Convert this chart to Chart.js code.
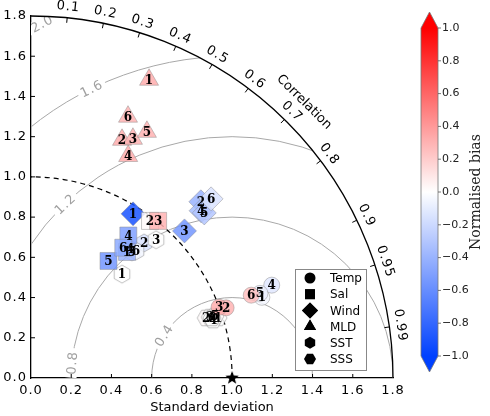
<!DOCTYPE html>
<html>
<head>
<meta charset="utf-8">
<script src="https://cdn.jsdelivr.net/npm/chart.js@4.4.0/dist/chart.umd.min.js"></script>
<style>
  html, body { margin: 0; padding: 0; background: #fff; }
  #wrap { width: 490px; height: 416px; position: relative; }
</style>
</head>
<body>
<div id="wrap"><canvas id="taylor"></canvas></div>
<script>
// experiment runs 1..6 for every variable
const runLabels = ['1', '2', '3', '4', '5', '6'];
const variables = ['Temp', 'Sal', 'Wind', 'MLD', 'SST', 'SSS'];

const stdTemp = [1.216, 1.031, 0.999, 1.283, 1.214, 1.170];
const corrTemp = [0.944, 0.941, 0.936, 0.933, 0.938, 0.936];
const biasTemp = [-0.04, 0.30, 0.32, -0.12, -0.08, 0.25];

const stdSal = [0.788, 0.980, 1.005, 0.858, 0.698, 0.794];
const corrSal = [0.606, 0.604, 0.629, 0.564, 0.552, 0.578];
const biasSal = [-0.40, 0.02, 0.30, -0.50, -0.55, -0.45];

const stdWind = [0.961, 1.217, 1.057, 1.186, 1.190, 1.263];
const corrWind = [0.528, 0.694, 0.722, 0.713, 0.724, 0.709];
const biasWind = [-0.90, -0.40, -0.55, -0.35, -0.30, -0.15];

const stdMLD = [1.595, 1.268, 1.293, 1.205, 1.353, 1.386];
const corrMLD = [0.368, 0.357, 0.392, 0.401, 0.426, 0.348];
const biasMLD = [0.32, 0.32, 0.30, 0.32, 0.30, 0.30];

const stdSST = [0.687, 0.876, 0.927, 0.809, 0.803, 0.820];
const corrSST = [0.659, 0.642, 0.671, 0.609, 0.625, 0.637];
const biasSST = [0.00, -0.15, 0.00, -0.05, 0.00, -0.05];

const stdSSS = [0.977, 0.921, 0.941, 0.950, 0.965, 0.948];
const corrSSS = [0.952, 0.946, 0.947, 0.953, 0.948, 0.949];
const biasSSS = [0.00, 0.02, 0.00, 0.00, 0.02, 0.00];

const refStd = 1.0;
const maxStd = 1.8;
const corrTicks = [0.1, 0.2, 0.3, 0.4, 0.5, 0.6, 0.7, 0.8, 0.9, 0.95, 0.99];
const rmsLevels = [0.4, 0.8, 1.2, 1.6, 2.0];
const rmsLabelAngles = [148, 174.6, 133.8, 115.9, 118.2]; // degrees around the reference point
const biasTicks = [1.0, 0.8, 0.6, 0.4, 0.2, 0.0, -0.2, -0.4, -0.6, -0.8, -1.0];

Chart.defaults.font.family = 'DejaVu Sans';
Chart.defaults.color = '#000';

function biasColor(b, a) {
  b = Math.max(-1, Math.min(1, b));
  let r, g, bl;
  if (b >= 0) {
    r = 255; g = bl = Math.round(255 * (1 - b));
  } else {
    const t = -b;
    r = Math.round(255 * (1 - t)); g = Math.round(255 - 190 * t); bl = 255;
  }
  return `rgba(${r},${g},${bl},${a})`;
}

function hexPath(ctx, x, y, r, flatTop) {
  ctx.beginPath();
  for (let i = 0; i < 6; i++) {
    const a = (flatTop ? 0 : Math.PI / 6) + i * Math.PI / 3;
    const px = x + r * Math.cos(a), py = y + r * Math.sin(a);
    if (i === 0) ctx.moveTo(px, py); else ctx.lineTo(px, py);
  }
  ctx.closePath();
}

const hexCache = {};
function hexImage(color, r, flatTop) {
  const key = color + r + flatTop;
  if (hexCache[key]) return hexCache[key];
  const cv = document.createElement('canvas');
  cv.width = cv.height = 2 * r + 4;
  const c = cv.getContext('2d');
  hexPath(c, r + 2, r + 2, r, flatTop);
  c.fillStyle = color; c.fill();
  c.strokeStyle = 'rgba(140,140,140,0.7)'; c.lineWidth = 0.8; c.stroke();
  hexCache[key] = cv;
  return cv;
}

function starImage(r) {
  const cv = document.createElement('canvas');
  cv.width = cv.height = 2 * r + 2;
  const c = cv.getContext('2d');
  c.beginPath();
  for (let i = 0; i < 10; i++) {
    const rad = i % 2 === 0 ? r : r * 0.42;
    const a = -Math.PI / 2 + i * Math.PI / 5;
    const px = r + 1 + rad * Math.cos(a), py = r + 1 + rad * Math.sin(a);
    if (i === 0) c.moveTo(px, py); else c.lineTo(px, py);
  }
  c.closePath();
  c.fillStyle = '#000'; c.fill();
  return cv;
}

function toPoints(std, corr) {
  return std.map((s, i) => ({ x: s * corr[i], y: s * Math.sqrt(1 - corr[i] * corr[i]) }));
}

function makeSet(label, std, corr, bias, style, radius) {
  const hex = style === 'hex' || style === 'hexFlat';
  return {
    label: label,
    data: toPoints(std, corr),
    bias: bias,
    pointStyle: hex
      ? (c) => hexImage(biasColor(bias[c.dataIndex], 0.85), radius, style === 'hexFlat')
      : style,
    pointRadius: radius,
    backgroundColor: (c) => biasColor(bias[c.dataIndex], 0.85),
    borderColor: 'rgba(140,140,140,0.6)',
    borderWidth: 0.8,
    numbered: true
  };
}

const datasets = [
  makeSet('Temp', stdTemp, corrTemp, biasTemp, 'circle', 8),
  makeSet('Sal', stdSal, corrSal, biasSal, 'rect', 12),
  makeSet('Wind', stdWind, corrWind, biasWind, 'rectRot', 12),
  makeSet('MLD', stdMLD, corrMLD, biasMLD, 'triangle', 11),
  makeSet('SST', stdSST, corrSST, biasSST, 'hex', 9),
  makeSet('SSS', stdSSS, corrSSS, biasSSS, 'hexFlat', 9),
  {
    label: 'Reference',
    data: [{ x: refStd, y: 0 }],
    pointStyle: starImage(7),
    pointRadius: 7,
    clip: false
  }
];

const legendStyles = ['circle', 'rect', 'rectRot', 'triangle', 'hex', 'hexFlat'];
const legendRadius = [5.5, 7, 8, 7, 6, 6];

const fmt = (v) => Number(v).toFixed(1);

const taylorPlugin = {
  id: 'taylor',
  beforeDraw(chart) {
    // matplotlib-like loose tick lettering for the axis labels
    chart.ctx.letterSpacing = '1px';
  },
  beforeDatasetsDraw(chart) {
    const { ctx, scales: { x, y } } = chart;
    const ox = x.getPixelForValue(0), oy = y.getPixelForValue(0);
    const k = x.getPixelForValue(1) - ox;
    const R = maxStd * k;

    // y tick labels from the y scale ticks
    ctx.save();
    ctx.font = '13px "DejaVu Sans"';
    ctx.fillStyle = '#000';
    ctx.textAlign = 'right';
    ctx.textBaseline = 'middle';
    y.ticks.forEach((t) => {
      ctx.fillText(fmt(t.value), ox - 4, y.getPixelForValue(t.value));
    });
    ctx.restore();

    // centred RMS difference contours, clipped to the quarter disc
    ctx.save();
    ctx.beginPath();
    ctx.moveTo(ox, oy);
    ctx.arc(ox, oy, R, 0, -Math.PI / 2, true);
    ctx.closePath();
    ctx.clip();
    const rx = x.getPixelForValue(refStd), ry = y.getPixelForValue(0);
    ctx.strokeStyle = '#a8a8a8';
    ctx.lineWidth = 1;
    rmsLevels.forEach((l) => {
      ctx.beginPath();
      ctx.arc(rx, ry, l * k, Math.PI, 2 * Math.PI);
      ctx.stroke();
    });
    ctx.font = '13px "DejaVu Sans"';
    ctx.textAlign = 'center';
    ctx.textBaseline = 'middle';
    rmsLevels.forEach((l, i) => {
      const phi = rmsLabelAngles[i] * Math.PI / 180;
      const px = x.getPixelForValue(refStd + l * Math.cos(phi));
      const py = y.getPixelForValue(l * Math.sin(phi));
      const txt = fmt(l);
      ctx.save();
      ctx.translate(px, py);
      ctx.rotate(-(phi - Math.PI / 2));
      const w = ctx.measureText(txt).width;
      ctx.fillStyle = '#fff';
      ctx.fillRect(-w / 2 - 3, -6, w + 6, 12);
      ctx.fillStyle = '#a0a0a0';
      ctx.fillText(txt, 0, 1);
      ctx.restore();
    });
    ctx.restore();

    // reference standard deviation (dashed)
    ctx.save();
    ctx.strokeStyle = '#000';
    ctx.lineWidth = 1.2;
    ctx.setLineDash([5, 4]);
    ctx.beginPath();
    ctx.arc(ox, oy, refStd * k, 0, -Math.PI / 2, true);
    ctx.stroke();
    ctx.restore();

    // outer arc with correlation ticks
    ctx.save();
    ctx.strokeStyle = '#000';
    ctx.lineWidth = 1.3;
    ctx.beginPath();
    ctx.arc(ox, oy, R, 0, -Math.PI / 2, true);
    ctx.stroke();
    ctx.lineWidth = 1;
    ctx.font = '13px "DejaVu Sans"';
    ctx.fillStyle = '#000';
    ctx.textAlign = 'center';
    ctx.textBaseline = 'middle';
    corrTicks.forEach((c) => {
      const th = Math.acos(c);
      ctx.beginPath();
      ctx.moveTo(ox + R * Math.cos(th), oy - R * Math.sin(th));
      ctx.lineTo(ox + (R - 5) * Math.cos(th), oy - (R - 5) * Math.sin(th));
      ctx.stroke();
      const lr = R + 11;
      ctx.save();
      ctx.translate(ox + lr * Math.cos(th), oy - lr * Math.sin(th));
      ctx.rotate(Math.PI / 2 - th);
      ctx.fillText(String(c), 0, 0);
      ctx.restore();
    });
    ctx.letterSpacing = '0px';
    const ct = 45.3 * Math.PI / 180, cr = 1.93 * k;
    ctx.save();
    ctx.translate(ox + cr * Math.cos(ct), oy - cr * Math.sin(ct));
    ctx.rotate(Math.PI / 2 - ct);
    ctx.font = '13px "DejaVu Sans"';
    ctx.fillText('Correlation', 0, 0);
    ctx.restore();

    // inward axis ticks
    ctx.beginPath();
    for (let v = 0.2; v < maxStd - 0.01; v += 0.2) {
      const px = x.getPixelForValue(v), py = y.getPixelForValue(v);
      ctx.moveTo(px, oy); ctx.lineTo(px, oy - 4);
      ctx.moveTo(ox, py); ctx.lineTo(ox + 4, py);
    }
    ctx.stroke();
    ctx.restore();
    ctx.letterSpacing = '0px';
  },
  afterDatasetsDraw(chart) {
    const { ctx } = chart;
    ctx.save();
    ctx.letterSpacing = '0px';
    ctx.font = 'bold 12px "DejaVu Serif"';
    ctx.fillStyle = '#000';
    ctx.textAlign = 'center';
    ctx.textBaseline = 'middle';
    chart.data.datasets.forEach((ds, i) => {
      if (!ds.numbered) return;
      chart.getDatasetMeta(i).data.forEach((pt, j) => {
        ctx.fillText(runLabels[j], pt.x, pt.y + 1);
      });
    });
    ctx.restore();
  },
  afterDraw(chart) {
    const { ctx, scales: { x } } = chart;
    ctx.save();
    ctx.letterSpacing = '0px';

    // x axis title
    ctx.font = '13px "DejaVu Sans"';
    ctx.fillStyle = '#000';
    ctx.textAlign = 'center';
    ctx.textBaseline = 'middle';
    ctx.fillText('Standard deviation', (x.left + x.right) / 2, 408);

    // legend box
    const lx = 295.5, ly = 269.5, lw = 71, lh = 101;
    ctx.fillStyle = '#fff';
    ctx.strokeStyle = '#888';
    ctx.lineWidth = 1;
    ctx.fillRect(lx, ly, lw, lh);
    ctx.strokeRect(lx, ly, lw, lh);
    ctx.font = '12px "DejaVu Sans"';
    ctx.textAlign = 'left';
    ctx.textBaseline = 'middle';
    variables.forEach((name, i) => {
      const cy = 278 + i * 16.2, cx = 310;
      const st = legendStyles[i];
      if (st === 'hex' || st === 'hexFlat') {
        hexPath(ctx, cx, cy, legendRadius[i], st === 'hexFlat');
        ctx.fillStyle = '#000';
        ctx.fill();
      } else {
        Chart.helpers.drawPoint(ctx, {
          pointStyle: st, radius: legendRadius[i], borderWidth: 0, rotation: 0
        }, cx, cy);
        ctx.fillStyle = '#000';
        ctx.fill();
      }
      ctx.fillStyle = '#000';
      ctx.fillText(name, 330, cy + 1);
    });

    // colour bar
    const bx = 421, bw = 17, top = 28, bot = 356;
    const vy = (v) => top + (1 - v) / 2 * (bot - top);
    const grad = ctx.createLinearGradient(0, top, 0, bot);
    for (let s = 0; s <= 20; s++) {
      const v = 1 - s / 10;
      grad.addColorStop(s / 20, biasColor(v, 1));
    }
    ctx.fillStyle = grad;
    ctx.fillRect(bx, top, bw, bot - top);
    ctx.fillStyle = biasColor(1, 1);
    ctx.beginPath();
    ctx.moveTo(bx, top); ctx.lineTo(bx + bw / 2, top - 16); ctx.lineTo(bx + bw, top); ctx.closePath();
    ctx.fill();
    ctx.fillStyle = biasColor(-1, 1);
    ctx.beginPath();
    ctx.moveTo(bx, bot); ctx.lineTo(bx + bw / 2, bot + 16); ctx.lineTo(bx + bw, bot); ctx.closePath();
    ctx.fill();
    ctx.strokeStyle = '#777';
    ctx.lineWidth = 0.8;
    ctx.beginPath();
    ctx.moveTo(bx, top); ctx.lineTo(bx + bw / 2, top - 16); ctx.lineTo(bx + bw, top);
    ctx.lineTo(bx + bw, bot); ctx.lineTo(bx + bw / 2, bot + 16); ctx.lineTo(bx, bot);
    ctx.closePath();
    ctx.stroke();

    ctx.font = '11px "DejaVu Sans"';
    ctx.fillStyle = '#222';
    ctx.textAlign = 'left';
    ctx.textBaseline = 'middle';
    ctx.strokeStyle = '#555';
    biasTicks.forEach((v) => {
      const py = vy(v);
      ctx.beginPath();
      ctx.moveTo(bx + bw, py); ctx.lineTo(bx + bw + 3, py);
      ctx.stroke();
      const txt = (v < 0 ? '\u2212' : '') + Math.abs(v).toFixed(1);
      ctx.fillText(txt, bx + bw + 4, py);
    });
    ctx.save();
    ctx.translate(476, (top + bot) / 2);
    ctx.rotate(-Math.PI / 2);
    ctx.textAlign = 'center';
    ctx.font = '14px "DejaVu Serif"';
    ctx.fillStyle = '#222';
    ctx.fillText('Normalised bias', 0, 0);
    ctx.restore();

    ctx.restore();
  }
};

new Chart(document.getElementById('taylor'), {
  type: 'scatter',
  data: { datasets: datasets },
  options: {
    responsive: true,
    maintainAspectRatio: false,
    animation: false,
    events: [],
    layout: { padding: { top: 16, right: 97, left: 0, bottom: 0 } },
    plugins: { legend: { display: false }, tooltip: { enabled: false } },
    scales: {
      x: {
        type: 'linear',
        min: 0, max: maxStd,
        afterFit: (s) => { s.height = 38; },
        grid: { display: false, drawTicks: false },
        border: { display: true, color: '#000', width: 1.3 },
        ticks: {
          stepSize: 0.2, autoSkip: false, padding: 5, maxRotation: 0,
          font: { size: 13 }, color: '#000', callback: (v) => fmt(v)
        }
      },
      y: {
        type: 'linear',
        min: 0, max: maxStd,
        afterFit: (s) => { s.width = 31; },
        grid: { display: false },
        border: { display: true, color: '#000', width: 1.3 },
        ticks: {
          stepSize: 0.2, autoSkip: false, display: false
        }
      }
    }
  },
  plugins: [taylorPlugin]
});
</script>
</body>
</html>
